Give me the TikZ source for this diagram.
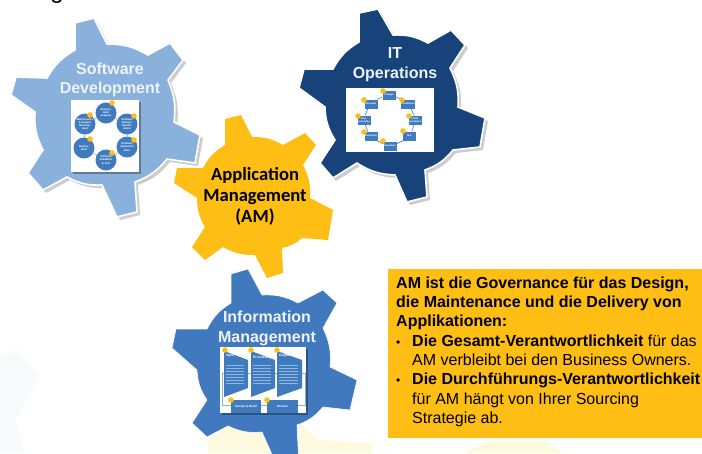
\documentclass[tikz,border=0pt]{standalone}
\usepackage{fontspec}
\setmainfont{Liberation Sans}
\newfontfamily\carlitofont{Carlito}
\definecolor{gearlight}{HTML}{8AB0DC}
\definecolor{geardark}{HTML}{17427A}
\definecolor{gearmid}{HTML}{4079BD}
\definecolor{amber}{HTML}{FFBE14}
\definecolor{minibox}{HTML}{3F7BBE}
\definecolor{paleyellow}{HTML}{FFFADF}
\definecolor{paleblue}{HTML}{F8FBFC}
\definecolor{titlewhite}{HTML}{EEF3FA}
\newcommand\gearA{(75,23) -- (94,18) -- (107,44) to[bend left=15] (148,55) -- (170,43) -- (183,60) -- (168,80) to[bend left=15] (174,122) -- (200,135) -- (195,163) -- (167,159) to[bend left=15] (135,182) -- (137,212) -- (117,217) -- (102,185) to[bend left=15] (67,177) -- (43,190) -- (28,173) -- (43,150) to[bend left=15] (35,112) -- (11,95) -- (16,77) -- (47,78) to[bend left=15] (75,50) -- cycle}
\newcommand\gearB{(359,13) -- (378,9) -- (393,35) to[bend left=15] (428,43) -- (451,30) -- (465,45) -- (450,68) to[bend left=15] (458,107) -- (485,118) -- (480,147) -- (453,150) to[bend left=15] (425,170) -- (427,197) -- (407,202) -- (395,175) to[bend left=15] (357,163) -- (333,178) -- (320,163) -- (335,140) to[bend left=15] (325,107) -- (299,88) -- (304,69) -- (333,69) to[bend left=15] (359,42) -- cycle}
\newcommand\gearC{(225,119) -- (241,115) -- (252,137) to[bend left=15] (283,145) -- (305,133) -- (316,145) -- (303,165) to[bend left=15] (310,198) -- (333,210) -- (328,240) -- (302,238) to[bend left=15] (282,248) -- (283,273) -- (267,278) -- (255,255) to[bend left=15] (223,247) -- (205,260) -- (192,247) -- (205,227) to[bend left=15] (197,198) -- (174,183) -- (177,168) -- (203,168) to[bend left=15] (225,145) -- cycle}
\newcommand\gearD{(231,274) -- (248,269) -- (262,295) to[bend left=15] (298,303) -- (323,290) -- (337,303) -- (323,328) to[bend left=15] (330,367) -- (357,380) -- (350,410) -- (323,407) to[bend left=15] (297,425) -- (299,465) -- (279,470) -- (262,432) to[bend left=15] (228,426) -- (207,437) -- (192,423) -- (207,400) to[bend left=15] (197,370) -- (172,348) -- (176,329) -- (207,329) to[bend left=15] (231,303) -- cycle}
\tikzset{
  gearshadow/.style={fill=black,fill opacity=.2,draw=none},
  gearedge/.style={draw=white,line width=1.6pt,miter limit=3},
  gearlabel/.style={font=\bfseries\fontsize{16}{19.5}\selectfont,text=titlewhite,align=center,inner sep=0},
  picframe/.style={fill=white,draw=none},
  badge/.style={circle,fill=amber,minimum size=5.6pt,inner sep=0},
  roundstep/.style={circle,fill=minibox,minimum size=21pt,inner sep=0,text=white,align=center,font=\bfseries\fontsize{2.7}{3.1}\selectfont},
  rectstep/.style={rectangle,fill=minibox,minimum width=13pt,minimum height=9pt,inner sep=0,text=white,align=center,font=\bfseries\fontsize{2.5}{2.9}\selectfont},
  loopline/.style={draw=minibox,line width=.6pt},
  milkline/.style={draw=white,draw opacity=.45,line width=.45pt},
  processlink/.style={draw=gearlight,line width=.7pt},
  tinytitle/.style={font=\bfseries\fontsize{3.4}{3.8}\selectfont,text=white,inner sep=0},
  tinynote/.style={font=\fontsize{2.4}{2.8}\selectfont,text=white,inner sep=0,align=center}
}
\begin{document}
\begin{tikzpicture}[x=1pt,y=-1pt]
\path[use as bounding box,clip] (0,0) rectangle (702,453);
\fill[white] (0,0) rectangle (702,453);
% faint background shapes
\fill[paleblue] (0,357) -- (17,350) -- (40,377) -- (15,420) -- (25,453) -- (0,453) -- cycle;
\fill[paleyellow] (208,440) -- (228,426) -- (262,432) -- (272,453) -- (208,453) -- cycle;
\fill[paleyellow] (298,422) -- (318,440) -- (372,443) -- (372,453) -- (298,453) -- cycle;
\fill[paleyellow] (372,453) -- (463,453) -- (487,441) -- (547,441) -- (562,453) -- cycle;
% clipped descender
\node[anchor=base,inner sep=0,font=\fontsize{24}{24}\selectfont] (topglyph) at (57,-2) {g};
% gear 1
\fill[gearshadow,shift={(3,3)}] \gearA;
\filldraw[gearedge,fill=gearlight] \gearA;
\fill[black,opacity=.3] (73,102) rectangle (141,174);
\fill[picframe] (71,100) rectangle (139,172);
\node[roundstep] (s1) at (106,113) {Require-\\ment\\analysis};
\node[roundstep] (s2) at (127,124) {Software\\Design /\\Specifi-\\cation};
\node[roundstep] (s3) at (127,147) {Software\\implement\\ation};
\node[roundstep] (s4) at (106,160) {Software\\Validation\\\& Test};
\node[roundstep] (s5) at (84,148) {Deploy-\\ment};
\node[roundstep] (s6) at (85,124) {Maintenance\\\& System\\Develop-\\ment};
\foreach \a/\b in {s1/s2,s2/s3,s3/s4,s4/s5,s5/s6,s6/s1}{\draw[draw=gearlight,line width=.6pt] (\a) -- (\b);}
\foreach \n/\p in {a1/{112,103},a2/{134,116},a3/{134,140},a4/{112,153},a5/{90,139},a6/{90,115}}{\node[badge] (\n) at (\p) {};}
\node[gearlabel] (swdev) at (110,80) {Software\\Development};
% gear 2
\fill[gearshadow,shift={(3,3)}] \gearB;
\filldraw[gearedge,fill=geardark] \gearB;
\fill[picframe] (346,88) rectangle (434,152);
\node[rectstep] (o1) at (389,95) {Change};
\node[rectstep] (o2) at (408,104) {Installation};
\node[rectstep] (o3) at (415,120) {Initial\\operations};
\node[rectstep] (o4) at (409,136) {Test};
\node[rectstep] (o5) at (390,146) {Operation};
\node[rectstep] (o6) at (371,136) {Shutdown};
\node[rectstep] (o7) at (364,120) {Disc.\\assembly};
\node[rectstep] (o8) at (371,104) {Renewal};
\draw[loopline] (o1) to[bend left=10] (o2);
\draw[loopline] (o2) to[bend left=10] (o3);
\draw[loopline] (o3) to[bend left=10] (o4);
\draw[loopline] (o4) to[bend left=10] (o5);
\draw[loopline] (o5) to[bend left=10] (o6);
\draw[loopline] (o6) to[bend left=10] (o7);
\draw[loopline] (o7) to[bend left=10] (o8);
\draw[loopline] (o8) to[bend left=10] (o1);
\foreach \n/\p in {b1/{383,91},b2/{402,100},b3/{409,116},b4/{403,131},b5/{383,141},b6/{364,132},b7/{358,116},b8/{364,100}}{\node[badge] (\n) at (\p) {};}
\node[gearlabel] (itops) at (395,64.5) {IT\\Operations};
% gear 3
\fill[amber] \gearC;
\node[inner sep=0,align=center,font=\carlitofont\bfseries\fontsize{18.6}{21}\selectfont,text=black] (am) at (255,196) {Application\\Management\\(AM)};
% gear 4
\filldraw[draw=white,line width=.6pt,fill=gearmid] \gearD;
\fill[black,opacity=.3] (221.5,348.5) rectangle (307.5,414.5);
\fill[picframe] (220,347) rectangle (306,413);
\coordinate (lnA) at (222,373);
\coordinate (lnB) at (222,405);
\coordinate (lnC) at (305,405);
\coordinate (lnD) at (305,373);
\draw[processlink] (lnA) -- (lnB) -- (lnC) -- (lnD) -- (lnA);
\fill[minibox] (224,351) -- (248,360) -- (248,388) -- (224,397) -- cycle;
\fill[minibox] (251,351) -- (275,360) -- (275,388) -- (251,397) -- cycle;
\fill[minibox] (277,351) -- (302,360) -- (302,388) -- (277,397) -- cycle;
\node[tinytitle,anchor=west] (inp) at (226,355.5) {Input};
\node[tinytitle,anchor=west] (pro) at (253,358) {Processing};
\node[tinytitle,anchor=west] (out) at (279,355.5) {Output};
\foreach \x/\w in {226/244,253/271,279/298}{
  \foreach \y in {365,368,371,374,377,380,383}{\draw[milkline] (\x,\y) -- (\w,\y);}
}
\node[fill=minibox,minimum width=30pt,minimum height=13pt,inner sep=0,align=center,font=\bfseries\fontsize{3}{3.5}\selectfont,text=white] (design) at (246,406.5) {Design \& Build};
\node[fill=minibox,minimum width=31pt,minimum height=13pt,inner sep=0,align=center,font=\bfseries\fontsize{3}{3.5}\selectfont,text=white] (review) at (282.5,406.5) {Review};
\foreach \n/\p in {c1/{225,350},c2/{251,350},c3/{277,350},c4/{231,400},c5/{267,400}}{\node[badge] (\n) at (\p) {};}
\node[gearlabel] (infm) at (267,328.5) {Information\\Management};
% text box
\fill[amber] (388,269) rectangle (702,438);
\node[anchor=north west,inner sep=0,align=left,text=black,font=\fontsize{16}{19.3}\selectfont] (note) at (396,276.5) {\textbf{AM ist die Governance für das Design,}\\
\textbf{die Maintenance und die Delivery von}\\
\textbf{Applikationen:}\\
\makebox[16pt][l]{\fontsize{12}{12}\selectfont•}\textbf{Die Gesamt-Verantwortlichkeit} für das\\
\hspace*{16pt}AM verbleibt bei den Business Owners.\\
\makebox[16pt][l]{\fontsize{12}{12}\selectfont•}\textbf{Die Durchführungs-Verantwortlichkeit}\\
\hspace*{16pt}für AM hängt von Ihrer Sourcing\\
\hspace*{16pt}Strategie ab.};
\end{tikzpicture}
\end{document}
